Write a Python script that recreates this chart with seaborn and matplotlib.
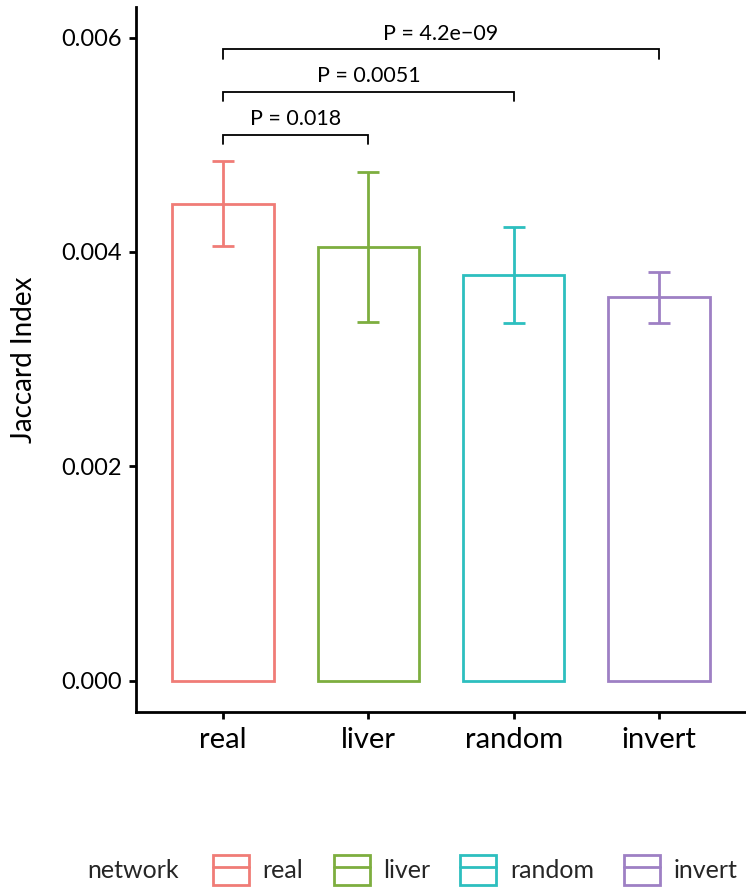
import matplotlib
matplotlib.use("Agg")
import matplotlib.pyplot as plt
from matplotlib.patches import Rectangle
from matplotlib.lines import Line2D
from matplotlib.ticker import FormatStrFormatter
import seaborn as sns
import pandas as pd

networks = ["real", "liver", "random", "invert"]
means = [0.00445, 0.004045, 0.003787, 0.003576]
errs = [0.000397, 0.000698, 0.000449, 0.000238]
colors = ["#F07C77", "#7DAE3F", "#2DBFBF", "#9E80C4"]

comp_pairs = [("real", "liver"), ("real", "random"), ("real", "invert")]
comp_labels = ["P = 0.018", "P = 0.0051", "P = 4.2e\u221209"]
comp_y = [0.005094, 0.005495, 0.005890]
tip = 0.000087

yticks = [0.000, 0.002, 0.004, 0.006]

sns.set_style("ticks")
plt.rcParams["font.family"] = ["Lato", "DejaVu Sans"]

df = pd.DataFrame({"network": networks, "value": means, "err": errs})

fig = plt.figure(figsize=(7.46, 8.90), dpi=100)
ax = fig.add_axes([136 / 746, 1 - 711.7 / 890, (746 - 136) / 746, (711.7 - 7) / 890])

sns.barplot(data=df, x="network", y="value", hue="network", order=networks,
            hue_order=networks, palette=colors, fill=False, linewidth=2.0,
            width=0.7, legend=False, errorbar=None, ax=ax)

for i, (m, e, c) in enumerate(zip(means, errs, colors)):
    ax.errorbar(i, m, yerr=e, color=c, lw=2.0, capsize=8, capthick=2.0, zorder=3)

for (a, b), lab, y in zip(comp_pairs, comp_labels, comp_y):
    xa, xb = networks.index(a), networks.index(b)
    ax.plot([xa, xa, xb, xb], [y - tip, y, y, y - tip], color="black", lw=1.3,
            solid_joinstyle="miter", clip_on=False)
    ax.text((xa + xb) / 2, y + 0.00009, lab, ha="center", va="baseline",
            fontsize=15.5, color="black")

ax.set_xlim(-0.6, 3.6)
ax.set_ylim(-0.000290, 0.006285)
ax.set_yticks(yticks)
ax.yaxis.set_major_formatter(FormatStrFormatter("%.3f"))
ax.set_xlabel("")
ax.set_ylabel("Jaccard Index", fontsize=20, color="black")
ax.yaxis.set_label_coords(-0.162, 0.5)

for s in ["top", "right"]:
    ax.spines[s].set_visible(False)
for s in ["left", "bottom"]:
    ax.spines[s].set_linewidth(2.0)
    ax.spines[s].set_color("black")
ax.tick_params(axis="both", length=5, width=2.0, color="black", labelcolor="black")
ax.tick_params(axis="x", pad=6, labelsize=21)
ax.tick_params(axis="y", pad=5, labelsize=17)

handles = []
for c in colors:
    p = Rectangle((0, 0), 1, 1, facecolor="none", edgecolor=c, lw=2.0)
    l = Line2D([], [], color=c, lw=2.0)
    handles.append((p, l))

fig.text(87 / 746, 1 - 871 / 890, "network", fontsize=18, ha="left", va="center")
leg = fig.legend(handles, networks, loc="center left",
                 bbox_to_anchor=(213 / 746, 1 - 870 / 890), ncol=4, frameon=False,
                 fontsize=18, handlelength=1.44, handleheight=1.44,
                 handletextpad=0.55, columnspacing=1.2, borderpad=0,
                 borderaxespad=0)

fig.savefig("out.png", dpi=100)
